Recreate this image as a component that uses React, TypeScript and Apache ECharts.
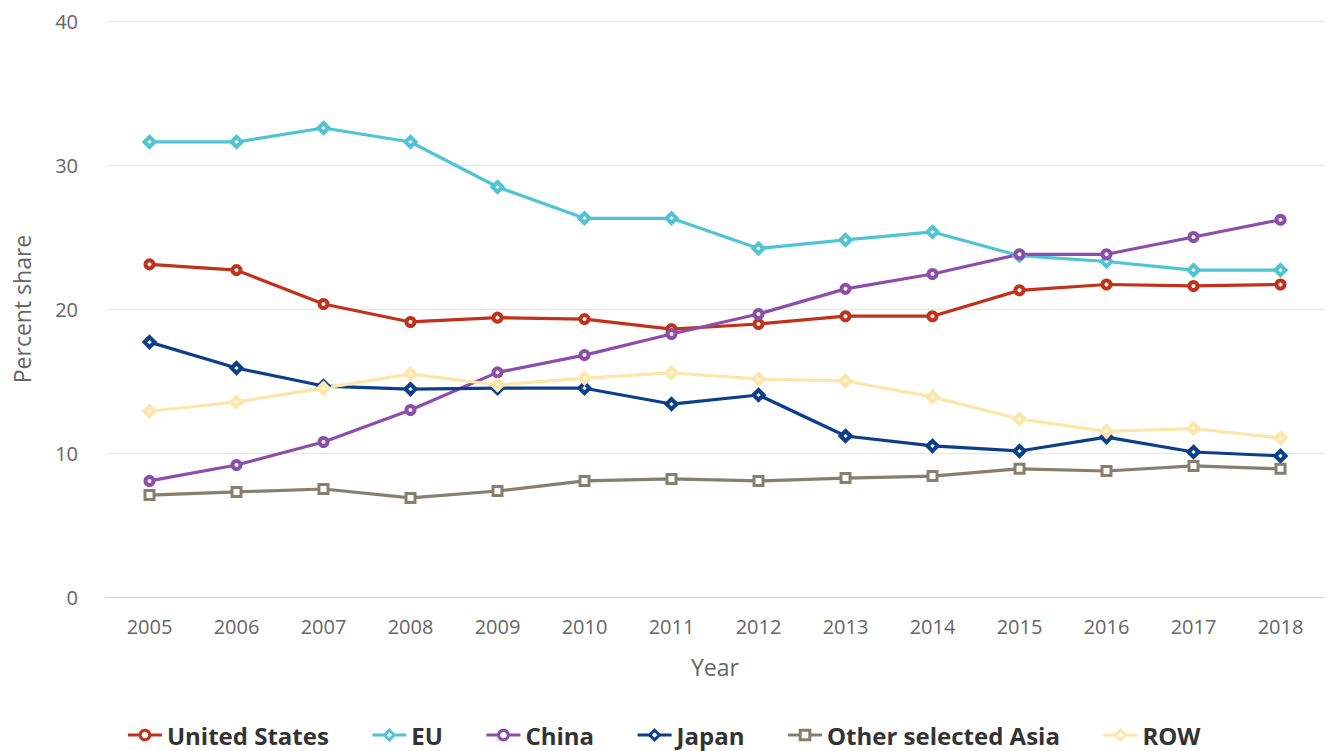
import React, { useEffect, useRef } from "react";
import * as echarts from "echarts";

const years = ["2005","2006","2007","2008","2009","2010","2011","2012","2013","2014","2015","2016","2017","2018"];
const unitedStates = [23.1, 22.7, 20.35, 19.1, 19.4, 19.3, 18.6, 18.96, 19.5, 19.5, 21.3, 21.7, 21.6, 21.7];
const eu = [31.6, 31.6, 32.57, 31.6, 28.47, 26.3, 26.3, 24.2, 24.8, 25.35, 23.7, 23.3, 22.7, 22.7];
const china = [8.06, 9.17, 10.76, 12.99, 15.6, 16.8, 18.26, 19.65, 21.4, 22.43, 23.8, 23.8, 25.0, 26.2];
const japan = [17.7, 15.9, 14.65, 14.44, 14.5, 14.5, 13.4, 14.03, 11.18, 10.49, 10.14, 11.1, 10.07, 9.8];
const otherAsia = [7.08, 7.3, 7.5, 6.88, 7.36, 8.06, 8.2, 8.06, 8.26, 8.4, 8.9, 8.75, 9.1, 8.9];
const row = [12.9, 13.54, 14.5, 15.49, 14.72, 15.2, 15.56, 15.14, 15.0, 13.9, 12.36, 11.5, 11.7, 11.04];

const seriesDefs = [
  { name: "United States", data: unitedStates, color: "#c0321a", symbol: "circle", size: 8, bw: 4 },
  { name: "EU", data: eu, color: "#4fc4d4", symbol: "diamond", size: 10, bw: 4 },
  { name: "China", data: china, color: "#8c4dab", symbol: "circle", size: 8, bw: 4 },
  { name: "Japan", data: japan, color: "#0b3f8c", symbol: "diamond", size: 10, bw: 4 },
  { name: "Other selected Asia", data: otherAsia, color: "#877e6e", symbol: "rect", size: 9, bw: 3 },
  { name: "ROW", data: row, color: "#fde6a8", symbol: "diamond", size: 10, bw: 4 },
];

export default function App() {
  const ref = useRef<HTMLDivElement>(null);
  useEffect(() => {
    if (!ref.current) return;
    const chart = echarts.init(ref.current, undefined, { renderer: "svg" });
    const font = "'Open Sans', sans-serif";
    chart.setOption({
      animation: false,
      textStyle: { fontFamily: font },
      grid: { left: 106, right: 3, top: 21, bottom: 154, containLabel: false, outerBoundsMode: "none" },
      legend: {
        top: 718,
        left: "center",
        itemWidth: 34,
        itemHeight: 12,
        itemGap: 42,
        lineStyle: { width: 3 },
        itemStyle: { borderWidth: 3 },
        textStyle: { fontSize: 24, fontWeight: "bold", color: "#333", fontFamily: font },
        data: seriesDefs.map((s) => s.name),
      },
      xAxis: {
        type: "category",
        data: years,
        boundaryGap: true,
        name: "Year",
        nameLocation: "middle",
        nameGap: 58,
        nameTextStyle: { fontSize: 23, color: "#666", fontFamily: font },
        axisLine: { lineStyle: { color: "#ccd6eb", width: 1 } },
        axisTick: { alignWithLabel: true, length: 10, lineStyle: { color: "#ccd6eb" } },
        axisLabel: { fontSize: 20, color: "#666", margin: 19, fontFamily: font },
        splitLine: { show: false },
      },
      yAxis: {
        type: "value",
        min: 0,
        max: 40,
        interval: 10,
        name: "Percent share",
        nameLocation: "middle",
        nameGap: 73,
        nameTextStyle: { fontSize: 23, color: "#666", fontFamily: font },
        axisLine: { show: false },
        axisTick: { show: false },
        axisLabel: { fontSize: 20, color: "#666", margin: 28, fontFamily: font },
        splitLine: { lineStyle: { color: "#e6e6e6", width: 1 } },
      },
      series: seriesDefs.map((s) => ({
        name: s.name,
        type: "line",
        data: s.data,
        symbol: s.symbol,
        symbolSize: s.size,
        showSymbol: true,
        lineStyle: { width: 3.2, color: s.color },
        itemStyle: { color: "#ffffff", borderColor: s.color, borderWidth: s.bw },
        emphasis: { disabled: true },
      })),
    });
    return () => chart.dispose();
  }, []);
  return <div ref={ref} style={{ width: 1327, height: 751, position: "absolute", left: 0, top: 0 }} />;
}
